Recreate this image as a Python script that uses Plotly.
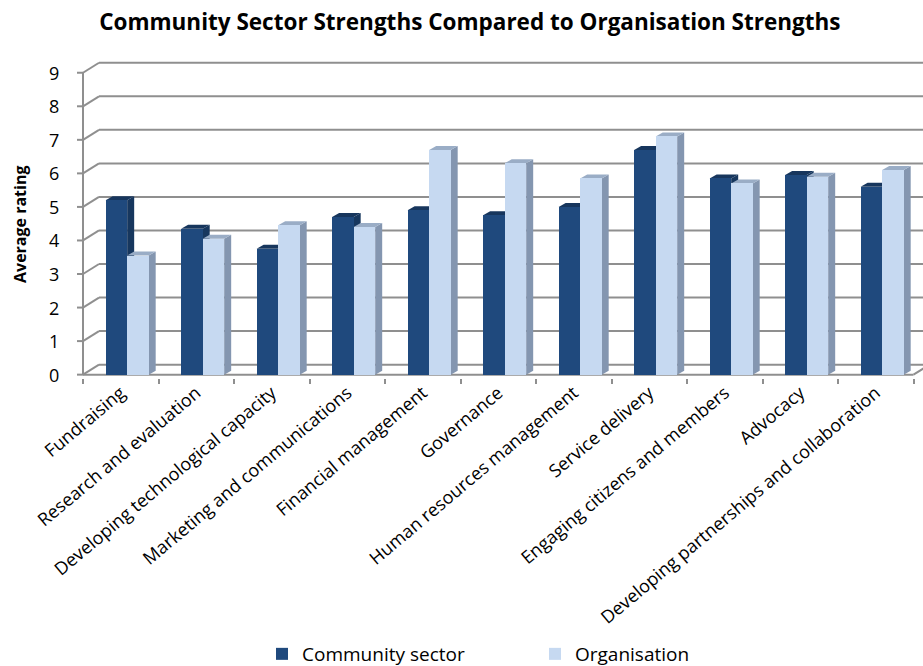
import plotly.graph_objects as go

categories = ["Fundraising", "Research and evaluation", "Developing technological capacity",
              "Marketing and communications", "Financial management", "Governance",
              "Human resources management", "Service delivery", "Engaging citizens and members",
              "Advocacy", "Developing partnerships and collaboration"]
community = [5.2, 4.35, 3.75, 4.7, 4.9, 4.75, 5.0, 6.7, 5.85, 5.95, 5.6]
organisation = [3.55, 4.05, 4.45, 4.4, 6.7, 6.3, 5.85, 7.1, 5.7, 5.9, 6.1]
y_ticks = list(range(0, 10))
y_title = "Average rating"

W, H = 923, 666
L, R = 74, 0
T, B = 61, 288
YMIN, YMAX = -0.1, 9.35
XUNIT = 75.5
XMIN = -0.5 - (83 - L) / XUNIT
XMAX = XMIN + (W - L - R) / XUNIT
YUNIT = (H - T - B) / (YMAX - YMIN)

DX, DY = 7 / XUNIT, 4 / YUNIT      # bar depth
BX, BY = 16 / XUNIT, 10 / YUNIT    # wall depth
TK = 6 / XUNIT                     # y tick length
BW = 0.285
OFF_C, OFF_O = -0.2, 0.085
GRID = "#8f8f8f"

comm_front, comm_side, comm_top = "#1F497D", "#17375E", "#17365D"
org_front, org_side, org_top = "#C6D9F1", "#8496B0", "#9AADC6"

xs = list(range(len(categories)))
fig = go.Figure()
fig.add_trace(go.Bar(x=xs, y=community, name="Community sector", width=BW, offset=OFF_C,
                     marker=dict(color=comm_front, line=dict(width=0))))
fig.add_trace(go.Bar(x=xs, y=organisation, name="Organisation", width=BW, offset=OFF_O,
                     marker=dict(color=org_front, line=dict(width=0))))

shapes = []
# back wall gridlines + y ticks
for v in y_ticks:
    shapes.append(dict(type="line", xref="x", yref="y", x0=-0.5, y0=v, x1=-0.5 + BX, y1=v + BY,
                       line=dict(color=GRID, width=2), layer="below"))
    shapes.append(dict(type="line", xref="x", yref="y", x0=-0.5 + BX, y0=v + BY, x1=XMAX, y1=v + BY,
                       line=dict(color=GRID, width=2), layer="below"))
    shapes.append(dict(type="line", xref="x", yref="y", x0=-0.5 - TK, y0=v, x1=-0.5, y1=v,
                       line=dict(color=GRID, width=2), layer="below"))
# front axis lines
shapes.append(dict(type="line", xref="x", yref="y", x0=-0.5, y0=0, x1=-0.5, y1=9,
                   line=dict(color=GRID, width=2), layer="below"))
shapes.append(dict(type="line", xref="x", yref="y", x0=-0.5, y0=0, x1=len(categories) - 0.5, y1=0,
                   line=dict(color=GRID, width=2), layer="below"))
shapes.append(dict(type="line", xref="x", yref="y", x0=len(categories) - 0.5, y0=0,
                   x1=len(categories) - 0.5 + BX, y1=BY,
                   line=dict(color=GRID, width=2), layer="below"))


def box3d(x, off, v, side, top):
    xl, xr = x + off, x + off + BW
    out = []
    out.append(dict(type="path", xref="x", yref="y", layer="below", line=dict(width=0), fillcolor=side,
                    path=f"M{xr},0 L{xr},{v} L{xr+DX},{v+DY} L{xr+DX},{DY} Z"))
    out.append(dict(type="path", xref="x", yref="y", layer="below", line=dict(width=0), fillcolor=top,
                    path=f"M{xl},{v} L{xr},{v} L{xr+DX},{v+DY} L{xl+DX},{v+DY} Z"))
    return out


for i in xs:
    shapes += box3d(i, OFF_C, community[i], comm_side, comm_top)
    shapes += box3d(i, OFF_O, organisation[i], org_side, org_top)

FONT = "Open Sans"
PW, PH = W - L - R, H - T - B

annotations = []
# y tick labels as text placed left of the axis
for v in y_ticks:
    annotations.append(dict(text=str(v), xref="paper", yref="y", x=(61 - L) / PW, y=v,
                            xanchor="right", yanchor="middle", showarrow=False,
                            font=dict(family=FONT, size=18, color="black")))
# y axis title
annotations.append(dict(text=f"<b>{y_title}</b>", xref="paper", yref="paper",
                        x=(20 - L) / PW, y=(H - B - 225) / PH, xanchor="center", yanchor="middle",
                        textangle=-90, showarrow=False,
                        font=dict(family=FONT, size=16, color="black")))

fig.update_layout(
    width=W, height=H,
    margin=dict(l=L, r=R, t=T, b=B, autoexpand=False),
    paper_bgcolor="white", plot_bgcolor="white",
    font=dict(family=FONT, color="black"),
    title=dict(text="<b>Community Sector Strengths Compared to Organisation Strengths</b>",
               x=0.509, xanchor="center", xref="container",
               y=1 - 22 / H, yanchor="middle", yref="container",
               font=dict(family=FONT, size=22.5, color="black")),
    shapes=shapes,
    annotations=annotations,
    showlegend=True,
    legend=dict(orientation="h", x=(262 - L) / PW, xanchor="left",
                y=1 - 654 / H, yanchor="middle", yref="container",
                font=dict(family=FONT, size=19), entrywidth=228, entrywidthmode="pixels",
                itemwidth=30, traceorder="normal"),
    bargap=0,
)
fig.update_xaxes(range=[XMIN, XMAX], tickvals=xs, ticktext=categories, ticks="",
                 tickangle=-40, tickfont=dict(family=FONT, size=18),
                 showgrid=False, zeroline=False, showline=False,
                 minor=dict(ticks="outside", ticklen=5, tickwidth=2, tickcolor=GRID,
                            tick0=0.5, dtick=1, showgrid=False))
fig.update_yaxes(range=[YMIN, YMAX], tickvals=y_ticks, ticks="", showticklabels=False,
                 showgrid=False, zeroline=False, showline=False)

fig.write_html("out.html")
